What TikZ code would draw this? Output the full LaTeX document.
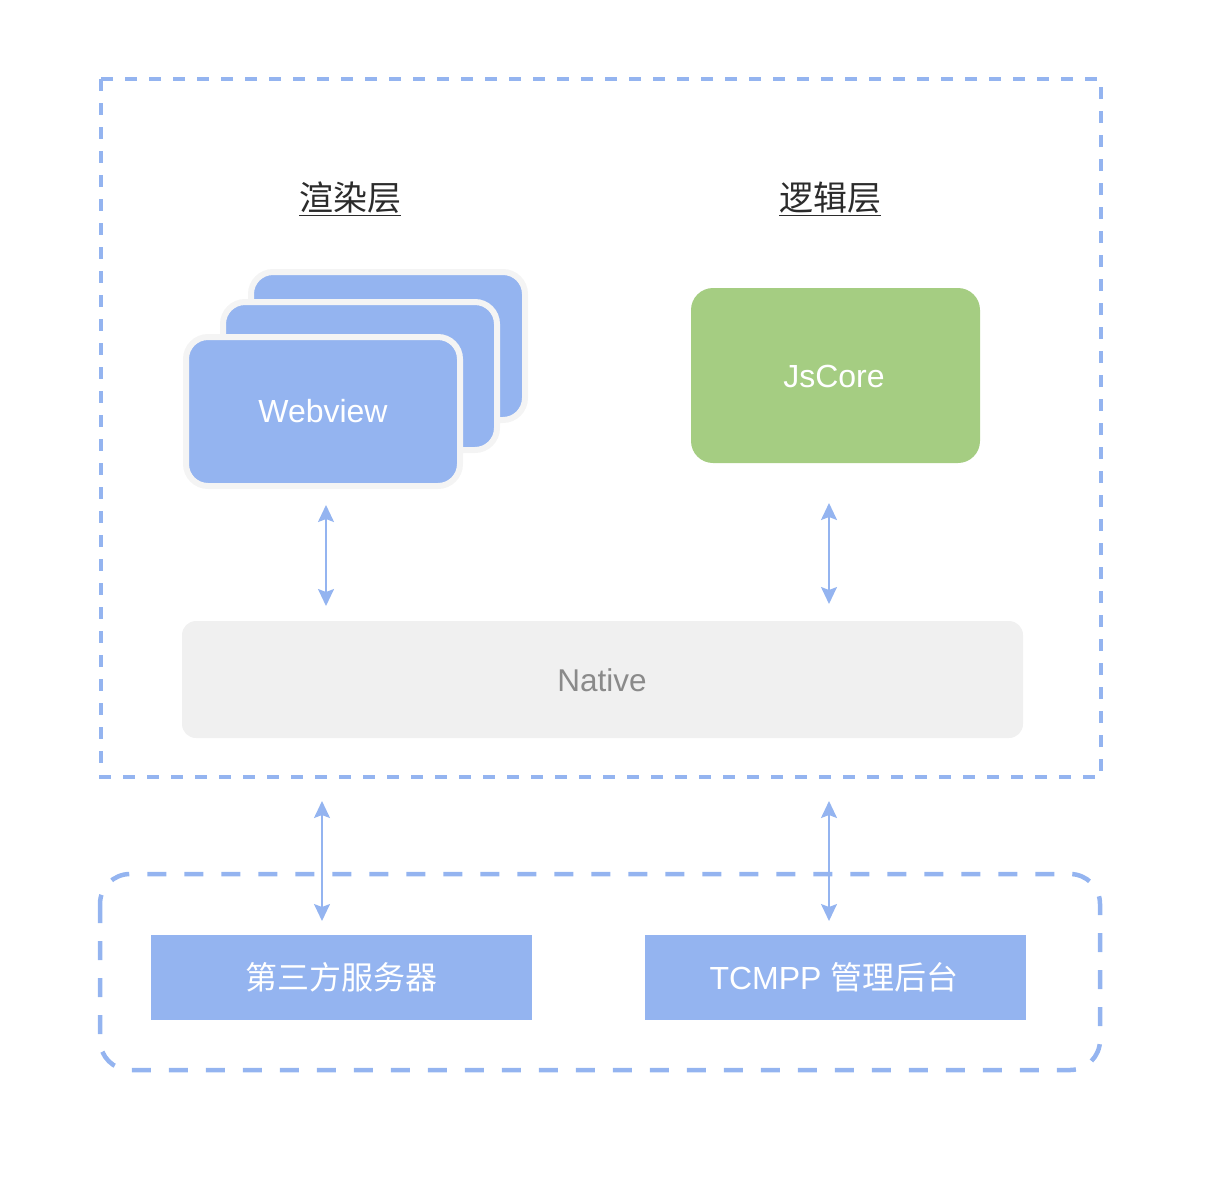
\documentclass[tikz,border=0pt]{standalone}
\usepackage{fontspec}
\setmainfont{Liberation Sans}
\newfontfamily\cjk{Noto Sans CJK SC}
\usetikzlibrary{arrows.meta}
\definecolor{bl}{HTML}{94B4F0}
\definecolor{gr}{HTML}{A5CD82}
\definecolor{nat}{HTML}{F0F0F0}
\definecolor{brd}{HTML}{F4F4F4}
\definecolor{ttl}{HTML}{2B2B2B}
\definecolor{ntxt}{HTML}{8A8A8A}
\begin{document}
\begin{tikzpicture}[x=1pt,y=-1pt,
  card/.style={fill=bl,draw=brd,line width=6pt,rounded corners=22pt},
  lbl/.style={font=\fontsize{32}{36}\selectfont,text=white},
  ttlst/.style={font=\cjk\fontsize{34}{38}\selectfont,text=ttl},
  biarrow/.style={draw=bl,line width=1.8pt,{Stealth[length=17pt,width=16pt,inset=3pt]}-{Stealth[length=17pt,width=16pt,inset=3pt]}},
  svbox/.style={fill=bl,draw=none,minimum width=381pt,minimum height=85pt}
]
\useasboundingbox (0,0) rectangle (1206,1176);
% outer dashed frame
\draw[bl,line width=3.5pt,dash pattern=on 12pt off 12pt] (101,79) rectangle (1101,777);
% titles
\node[ttlst] (t1) at (350,199) {\underline{渲染层}};
\node[ttlst] (t2) at (830,199) {\underline{逻辑层}};
% webview cards
\draw[card] (251,272) rectangle (525,420);
\draw[card] (223,302) rectangle (497,450);
\draw[card] (186,337) rectangle (460,486);
\node[lbl,font=\fontsize{32}{36}\selectfont] (wv) at (323,411) {Webview};
\coordinate (wvb) at (326,505);
% JsCore
\draw[fill=gr,draw=none,rounded corners=22pt] (691,288) rectangle (980,463);
\node[lbl] (js) at (834,376) {JsCore};
\coordinate (jsb) at (829,503);
% Native
\draw[fill=nat,draw=none,rounded corners=14pt] (182,621) rectangle (1023,738);
\node[font=\fontsize{31.5}{34}\selectfont,text=ntxt] (nat) at (602,680) {Native};
\coordinate (na1) at (326,606);
\coordinate (na2) at (829,604);
\draw[biarrow] (wvb) -- (na1);
\draw[biarrow] (jsb) -- (na2);
% bottom dashed frame
\draw[bl,line width=4.5pt,dash pattern=on 19pt off 18pt,rounded corners=30pt] (100,874) rectangle (1100,1070);
% service boxes
\node[svbox] (s1) at (341.5,977) {};
\node[lbl,font=\cjk\fontsize{32}{36}\selectfont] (s1t) at (341.5,977) {第三方服务器};
\node[svbox] (s2) at (835.5,977) {};
\node[lbl] (s2t) at (834,977) {TCMPP {\cjk 管理后台}};
\coordinate (u1) at (322,801);
\coordinate (u2) at (829,801);
\coordinate (d1) at (322,921);
\coordinate (d2) at (829,921);
\draw[biarrow] (u1) -- (d1);
\draw[biarrow] (u2) -- (d2);
\end{tikzpicture}
\end{document}
